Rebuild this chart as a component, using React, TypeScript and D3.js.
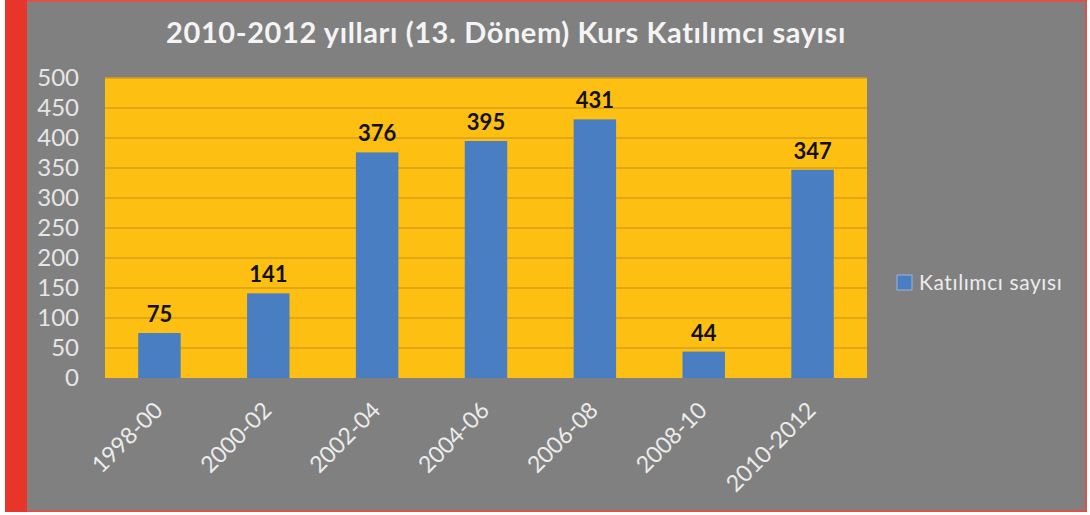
import React from "react";
import * as d3 from "d3";

const categories = ["1998-00", "2000-02", "2002-04", "2004-06", "2006-08", "2008-10", "2010-2012"];
const values = [75, 141, 376, 395, 431, 44, 347];
const yTicks = [0, 50, 100, 150, 200, 250, 300, 350, 400, 450, 500];
const title = "2010-2012 yılları (13. Dönem) Kurs Katılımcı sayısı";
const seriesName = "Katılımcı sayısı";

const W = 1090;
const H = 515;
const plot = { left: 105, right: 867, top: 78, bottom: 378 };
const font = "Lato, 'Open Sans', sans-serif";

export default function App() {
  const x = d3.scaleBand<string>().domain(categories).range([plot.left, plot.right]).paddingInner(0.61).paddingOuter(0.305);
  const y = d3.scaleLinear().domain([0, 500]).range([plot.bottom, plot.top]);

  return (
    <svg width={W} height={H} style={{ position: "absolute", left: 0, top: 0, display: "block" }}>
      <rect x={0} y={0} width={W} height={H} fill="#ffffff" />
      <rect x={5} y={0} width={1082} height={512} fill="#d9534a" />
      <rect x={27} y={2} width={1058} height={508} fill="#808080" />
      <rect x={5} y={0} width={22} height={512} fill="#e8352a" />
      <text x={506} y={43} textAnchor="middle" fill="#f4f4f4" fontFamily={font} fontWeight="bold" fontSize={29} letterSpacing={0.6}>
        {title}
      </text>
      <rect x={plot.left} y={plot.top} width={plot.right - plot.left} height={plot.bottom - plot.top} fill="#fdbf12" />
      {yTicks.map((t) => (
        <g key={t}>
          {t > 0 && (
            <line x1={plot.left} x2={plot.right} y1={y(t)} y2={y(t)} stroke="#d99f1a" strokeWidth={1.5} />
          )}
          <text x={79} y={y(t)} dy="0.35em" textAnchor="end" fill="#e6e6e6" fontFamily={font} fontSize={24}>
            {t}
          </text>
        </g>
      ))}
      {categories.map((c, i) => {
        const bx = x(c)!;
        const bw = x.bandwidth();
        const cx = bx + bw / 2;
        return (
          <g key={c}>
            <rect x={bx} y={y(values[i])} width={bw} height={y(0) - y(values[i])} fill="#4a7ec2" />
            <text x={cx} y={y(values[i]) - 11} textAnchor="middle" fill="#111" fontFamily={font} fontWeight="bold" fontSize={22}>
              {values[i]}
            </text>
            <text
              transform={`translate(${cx - 1},${plot.bottom + 28}) rotate(-45)`}
              textAnchor="end"
              dy="0.35em"
              fill="#ececec"
              fontFamily={font}
              fontSize={23}
            >
              {c}
            </text>
          </g>
        );
      })}
      <rect x={897} y={275} width={15} height={15} fill="#4a7ec2" stroke="#9ab4d8" strokeWidth={1} />
      <text x={919} y={283} dy="0.35em" fill="#ececec" fontFamily={font} fontSize={21} letterSpacing={0.6}>
        {seriesName}
      </text>
    </svg>
  );
}
